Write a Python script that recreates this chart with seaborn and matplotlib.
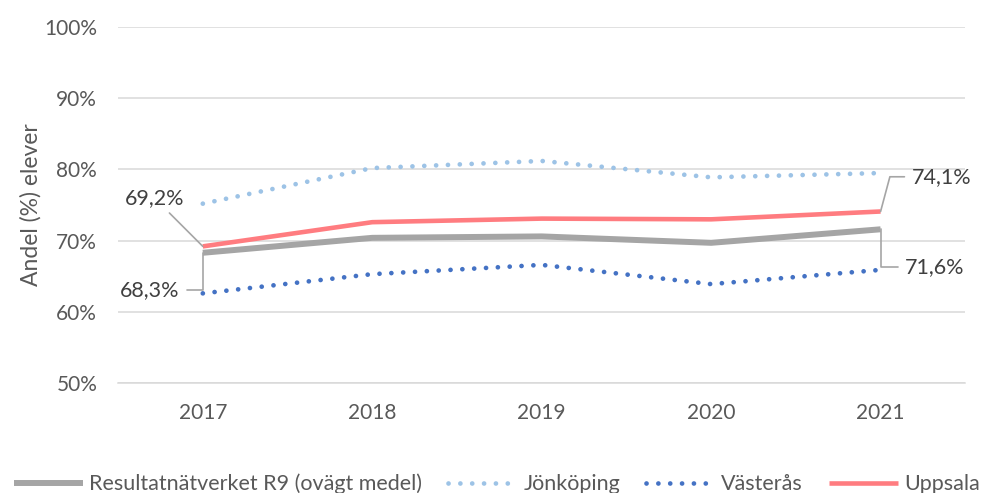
import matplotlib
matplotlib.use("Agg")
import matplotlib.pyplot as plt
import seaborn as sns
import pandas as pd

years = [2017, 2018, 2019, 2020, 2021]
r9 = [68.3, 70.4, 70.6, 69.7, 71.6]
jonkoping = [75.2, 80.2, 81.2, 78.9, 79.5]
vasteras = [62.6, 65.3, 66.6, 63.9, 65.9]
uppsala = [69.2, 72.6, 73.1, 73.0, 74.1]
yticks = [50, 60, 70, 80, 90, 100]

names = ["Resultatnätverket R9 (ovägt medel)", "Jönköping", "Västerås", "Uppsala"]
series = [r9, jonkoping, vasteras, uppsala]
colors = ["#A5A5A5", "#9DC3E6", "#4472C4", "#FF7C80"]
styles = ["-", (0, (0.01, 2.5)), (0, (0.01, 2.5)), "-"]
widths = [4.3, 3.4, 3.4, 3.3]

sns.set_theme(style="white")
plt.rcParams["font.family"] = ["Lato", "DejaVu Sans"]

fig = plt.figure(figsize=(9.84, 4.93), dpi=100)
ax = fig.add_axes([0.12, 0.223, 0.861, 0.722])

for name, vals, c, ls, lw in zip(names, series, colors, styles, widths):
    df = pd.DataFrame({"year": years, "value": vals})
    sns.lineplot(data=df, x="year", y="value", ax=ax, color=c, linestyle=ls,
                 linewidth=lw, label=name, solid_capstyle="butt",
                 dash_capstyle="round")

ax.set_xlim(years[0] - 0.5, years[-1] + 0.5)
ax.set_ylim(50, 100)
ax.set_yticks(yticks)
ax.set_yticklabels([f"{v}%" for v in yticks])
ax.set_xticks(years)
ax.set_xticklabels([str(y) for y in years])
ax.tick_params(axis="both", length=0, labelsize=15, colors="#595959")
ax.tick_params(axis="y", pad=15)
ax.tick_params(axis="x", pad=14)
ax.grid(axis="y", color="#D9D9D9", linewidth=1.1)
ax.set_axisbelow(True)
for s in ["top", "right", "left"]:
    ax.spines[s].set_visible(False)
ax.spines["bottom"].set_color("#D9D9D9")
ax.spines["bottom"].set_linewidth(1.1)
ax.set_xlabel("")
ax.set_ylabel("Andel (%) elever", fontsize=16.5, color="#595959", labelpad=2)

def fmt(v):
    return f"{v:.1f}".replace(".", ",") + "%"

lab_kw = dict(textcoords="offset points", fontsize=15.5, color="#404040",
              va="center", ha="center")
line_col = "#A5A5A5"
ax.annotate(fmt(uppsala[0]), xy=(years[0], uppsala[0]), xytext=(-35, 35),
            arrowprops=dict(arrowstyle="-", color=line_col, lw=1.2,
                            shrinkA=2, shrinkB=0), **lab_kw)
ax.annotate(fmt(r9[0]), xy=(years[0], r9[0]), xytext=(-38, -27),
            arrowprops=dict(arrowstyle="-", color=line_col, lw=1.2,
                            shrinkA=3, shrinkB=0,
                            connectionstyle="angle,angleA=0,angleB=90,rad=0"),
            **lab_kw)
ax.annotate(fmt(uppsala[-1]), xy=(years[-1], uppsala[-1]), xytext=(44, 25),
            arrowprops=dict(arrowstyle="-", color=line_col, lw=1.2,
                            shrinkA=3, shrinkB=0,
                            connectionstyle="angle,angleA=0,angleB=75,rad=0"),
            **lab_kw)
ax.annotate(fmt(r9[-1]), xy=(years[-1], r9[-1]), xytext=(39, -27),
            arrowprops=dict(arrowstyle="-", color=line_col, lw=1.2,
                            shrinkA=3, shrinkB=0,
                            connectionstyle="angle,angleA=0,angleB=90,rad=0"),
            **lab_kw)

ax.get_legend().remove()
handles, labels = ax.get_legend_handles_labels()
fig.legend(handles, labels, loc="lower center", bbox_to_anchor=(0.505, -0.042),
           ncol=4, frameon=False, fontsize=15.5, handlelength=3.2,
           columnspacing=1.2, handletextpad=0.3, labelcolor="#595959")

fig.savefig("out.png", dpi=100)
